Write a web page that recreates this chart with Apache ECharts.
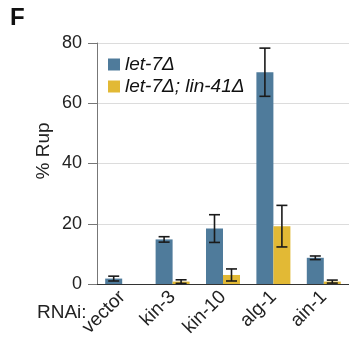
<!DOCTYPE html>
<html>
<head>
<meta charset="utf-8">
<script src="https://cdn.jsdelivr.net/npm/echarts@6/dist/echarts.min.js"></script>
<style>
html,body{margin:0;padding:0;background:#fff;}
#rup{width:349px;height:345px;}
</style>
</head>
<body>
<div id="rup"></div>
<script>
// RNAi conditions
var categories = ['vector', 'kin-3', 'kin-10', 'alg-1', 'ain-1'];
// % Rup, mean and error
var let7 = [1.8, 14.8, 18.4, 70.3, 8.7];
var let7Err = [0.8, 0.9, 4.6, 8.0, 0.6];
var let7lin41 = [0, 0.8, 3.0, 19.2, 0.8];
var let7lin41Err = [0, 0.6, 2.0, 6.9, 0.5];
var yTicks = [0, 20, 40, 60, 80];

var blue = '#4f7b9b';
var yellow = '#e2b935';
var barW = 17;
var font = 'Liberation Sans';

function errData(vals, errs){
	var out = [];
	for (var i = 0; i < vals.length; i++) {
		if (errs[i] > 0) out.push([i, vals[i] - errs[i], vals[i] + errs[i]]);
	}
	return out;
}

function errRender(shift){
	return function(params, api){
		var lo = api.coord([api.value(0), api.value(1)]);
		var hi = api.coord([api.value(0), api.value(2)]);
		var x = lo[0] + shift;
		var cap = 5.5;
		var st = {stroke: '#1a1a1a', lineWidth: 1.6};
		return {
			type: 'group',
			children: [
				{type: 'line', shape: {x1: x, y1: lo[1], x2: x, y2: hi[1]}, style: st},
				{type: 'line', shape: {x1: x - cap, y1: lo[1], x2: x + cap, y2: lo[1]}, style: st},
				{type: 'line', shape: {x1: x - cap, y1: hi[1], x2: x + cap, y2: hi[1]}, style: st}
			]
		};
	};
}

var option = {
	animation: false,
	textStyle: {fontFamily: font},
	graphic: [
		{type: 'text', left: 10, top: 6, style: {text: 'F', font: 'bold 24px ' + font, fill: '#111'}},
		{type: 'text', x: 37, y: 313, style: {text: 'RNAi:', font: '19px ' + font, fill: '#222', verticalAlign: 'middle'}},
		{type: 'text', x: 44, y: 151, rotation: Math.PI / 2,
			style: {text: '% Rup', font: '19px ' + font, fill: '#222', align: 'center', verticalAlign: 'middle'}}
	],
	legend: {
		data: ['let-7Δ', 'let-7Δ; lin-41Δ'],
		orient: 'vertical',
		left: 103,
		top: 50,
		icon: 'rect',
		itemWidth: 12,
		itemHeight: 12,
		itemGap: 3,
		textStyle: {fontStyle: 'italic', fontSize: 19, color: '#111', fontFamily: font}
	},
	grid: {left: 97, top: 43, width: 257, height: 241},
	xAxis: {
		type: 'category',
		data: categories,
		axisLine: {lineStyle: {color: '#333', width: 1.2}},
		axisTick: {alignWithLabel: true, length: 7, lineStyle: {color: '#555'}},
		axisLabel: {rotate: 45, fontSize: 19, color: '#222', margin: 10, fontFamily: font}
	},
	yAxis: {
		type: 'value',
		min: 0,
		max: 80,
		interval: 20,
		axisLine: {show: true, lineStyle: {color: '#777'}},
		axisTick: {show: true, length: 9, lineStyle: {color: '#777'}},
		axisLabel: {fontSize: 18, color: '#222', margin: 15, fontFamily: font,
			formatter: function(v){ return yTicks.indexOf(v) >= 0 ? String(v) : ''; }},
		splitLine: {lineStyle: {color: '#dcdcdc'}}
	},
	series: [
		{name: 'let-7Δ', type: 'bar', data: let7, barWidth: barW, barGap: '0%',
			itemStyle: {color: blue}},
		{name: 'let-7Δ; lin-41Δ', type: 'bar', data: let7lin41, barWidth: barW, barGap: '0%',
			itemStyle: {color: yellow}},
		{type: 'custom', data: errData(let7, let7Err), renderItem: errRender(-barW / 2), z: 5},
		{type: 'custom', data: errData(let7lin41, let7lin41Err), renderItem: errRender(barW / 2), z: 5}
	]
};

var chart = echarts.init(document.getElementById('rup'));
chart.setOption(option);
</script>
</body>
</html>
